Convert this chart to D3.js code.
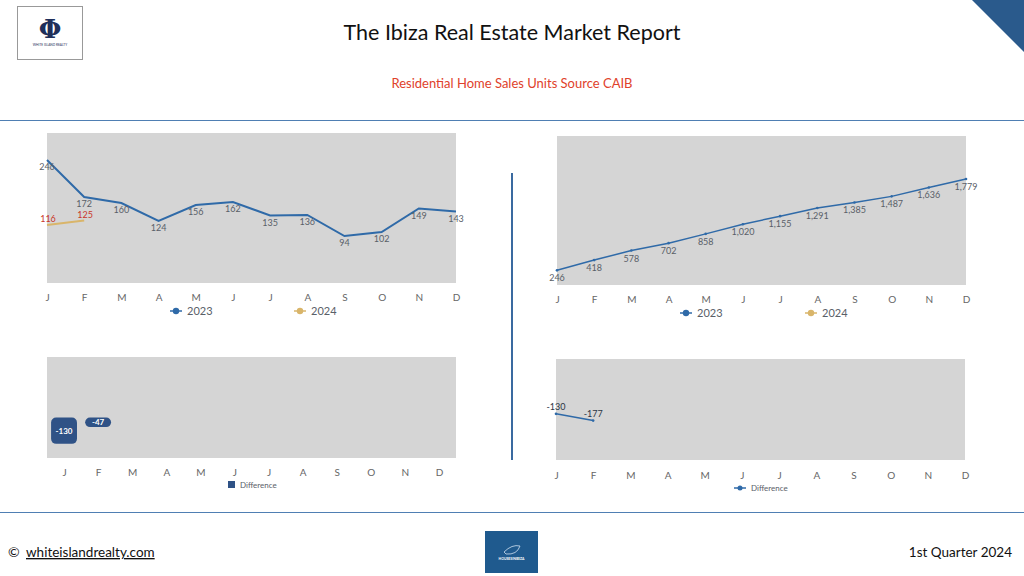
<!DOCTYPE html>
<html><head><meta charset="utf-8">
<script src="https://cdn.jsdelivr.net/npm/d3@7"></script>
<style>body{margin:0;background:#fff}svg{display:block;font-family:Lato,"Open Sans",sans-serif}</style>
</head><body><svg id="c" width="1024" height="576"></svg>
<script>
const months = ["J","F","M","A","M","J","J","A","S","O","N","D"];
const sales2023 = [246,172,160,124,156,162,135,136,94,102,149,143];
const sales2024 = [116,125];
const cum2023 = [246,418,578,702,858,1020,1155,1291,1385,1487,1636,1779];
const diffMonthly = [-130,-47];
const diffCum = [-130,-177];
const title = "The Ibiza Real Estate Market Report";
const subtitle = "Residential Home Sales Units Source CAIB";

const svg = d3.select("#c");
const BLUE = "#2f6aa8", GOLD = "#d9b56a", NAVY = "#2f5286", GRAYBG = "#d5d5d5", TXT = "#596068";
const idx = d3.range(12);

// header
svg.append("rect").attr("x",17.5).attr("y",6.5).attr("width",65).attr("height",53).attr("fill","#fff").attr("stroke","#999").attr("stroke-width",1);
svg.append("text").attr("x",50).attr("y",38).attr("text-anchor","middle").attr("font-family","DejaVu Serif,serif").attr("font-size",26).attr("font-weight","bold").attr("fill","#1f2f5a").text("Φ");
svg.append("text").attr("x",50).attr("y",46).attr("text-anchor","middle").attr("font-size",3.2).attr("fill","#1f2f5a").text("WHITE ISLAND REALTY");
svg.append("polygon").attr("points","972,0 1024,0 1024,52").attr("fill","#2a5a8c");
svg.append("text").attr("x",512).attr("y",40).attr("text-anchor","middle").attr("font-size",21.5).attr("fill","#111").text(title);
svg.append("text").attr("x",512).attr("y",88).attr("text-anchor","middle").attr("font-size",13).attr("fill","#e0412b").text(subtitle);
svg.append("line").attr("x1",0).attr("x2",1024).attr("y1",120.5).attr("y2",120.5).attr("stroke","#4f7fb3").attr("stroke-width",1.2);
svg.append("line").attr("x1",0).attr("x2",1024).attr("y1",512.5).attr("y2",512.5).attr("stroke","#4f7fb3").attr("stroke-width",1.2);
svg.append("line").attr("x1",512).attr("x2",512).attr("y1",173).attr("y2",460).attr("stroke","#3a6aa0").attr("stroke-width",2);

function xAxis(g, x, y, fmt){
  const a = g.append("g").attr("transform",`translate(0,${y})`)
    .call(d3.axisBottom(x).tickSize(0).tickFormat(fmt));
  a.select(".domain").remove();
  a.selectAll("text").attr("font-size",10).attr("fill","#666").attr("font-family","Lato,sans-serif").attr("dy","0.35em");
}
function legendLine(x, y, color, label, size){
  svg.append("line").attr("x1",x-6).attr("x2",x+6).attr("y1",y).attr("y2",y).attr("stroke",color).attr("stroke-width",1.5);
  svg.append("circle").attr("cx",x).attr("cy",y).attr("r",size||3.2).attr("fill",color);
  svg.append("text").attr("x",x+11).attr("y",y).attr("dy","0.35em").attr("font-size",label==="Difference"?8:11).attr("fill",TXT).text(label);
}

// ---- Chart 1: monthly sales
{
  const x = d3.scalePoint().domain(idx).range([47,456]);
  const y = d3.scaleLinear().domain([0,300]).range([283,133]);
  svg.append("rect").attr("x",47).attr("y",133).attr("width",409).attr("height",150).attr("fill",GRAYBG);
  const line = d3.line().x((d,i)=>x(i)).y(d=>y(d));
  svg.append("path").datum(sales2023).attr("d",line).attr("fill","none").attr("stroke",BLUE).attr("stroke-width",2);
  svg.append("path").datum(sales2024).attr("d",line).attr("fill","none").attr("stroke",GOLD).attr("stroke-width",2);
  svg.append("g").selectAll("text").data(sales2023).join("text")
    .attr("x",(d,i)=>x(i)).attr("y",d=>y(d)+10).attr("text-anchor","middle").attr("font-size",9).attr("fill",TXT).text(d=>d);
  svg.append("g").selectAll("text").data(sales2024).join("text")
    .attr("x",(d,i)=>x(i)+1).attr("y",d=>y(d)-3).attr("text-anchor","middle").attr("font-size",9).attr("fill","#c9352a").text(d=>d);
  xAxis(svg.append("g"), x, 294, i=>months[i]);
  legendLine(176, 311, BLUE, "2023");
  legendLine(300, 311, GOLD, "2024");
}

// ---- Chart 2: cumulative
{
  const x = d3.scalePoint().domain(idx).range([557,966]);
  const y = d3.scaleLinear().domain([0,2500]).range([285,136]);
  svg.append("rect").attr("x",557).attr("y",136).attr("width",409).attr("height",149).attr("fill",GRAYBG);
  const line = d3.line().x((d,i)=>x(i)).y(d=>y(d));
  svg.append("path").datum(cum2023).attr("d",line).attr("fill","none").attr("stroke",BLUE).attr("stroke-width",1.5);
  svg.append("g").selectAll("circle").data(cum2023).join("circle")
    .attr("cx",(d,i)=>x(i)).attr("cy",d=>y(d)).attr("r",1.3).attr("fill",BLUE);
  svg.append("g").selectAll("text").data(cum2023).join("text")
    .attr("x",(d,i)=>x(i)).attr("y",d=>y(d)+11).attr("text-anchor","middle").attr("font-size",9).attr("fill",TXT).text(d=>d3.format(",")(d));
  xAxis(svg.append("g"), x, 296, i=>months[i]);
  legendLine(686, 313, BLUE, "2023");
  legendLine(811, 313, GOLD, "2024");
}

// ---- Chart 3: monthly difference bars
{
  const x = d3.scaleBand().domain(idx).range([47,456]).paddingInner(0.24).paddingOuter(0.12);
  const y = d3.scaleLinear().domain([-200,300]).range([458,357]);
  svg.append("rect").attr("x",47).attr("y",357).attr("width",409).attr("height",101).attr("fill",GRAYBG);
  const bars = svg.append("g").selectAll("g").data(diffMonthly).join("g");
  bars.append("rect").attr("x",(d,i)=>x(i)).attr("width",x.bandwidth())
    .attr("y",d=>y(Math.max(0,d))).attr("height",d=>Math.abs(y(d)-y(0)))
    .attr("rx",d=>Math.min(5,Math.abs(y(d)-y(0))/2)).attr("fill",NAVY);
  bars.append("text").attr("x",(d,i)=>x(i)+x.bandwidth()/2).attr("y",d=>(y(d)+y(0))/2).attr("dy","0.35em")
    .attr("text-anchor","middle").attr("font-size",8).attr("font-weight","bold").attr("fill","#fff").text(d=>d);
  const xa = d3.scalePoint().domain(idx).range([x(0)+x.bandwidth()/2, x(11)+x.bandwidth()/2]);
  xAxis(svg.append("g"), xa, 469, i=>months[i]);
  svg.append("rect").attr("x",228).attr("y",481).attr("width",7).attr("height",7).attr("fill",NAVY);
  svg.append("text").attr("x",240).attr("y",485).attr("dy","0.35em").attr("font-size",8).attr("fill",TXT).text("Difference");
}

// ---- Chart 4: cumulative difference
{
  const x = d3.scalePoint().domain(idx).range([556,965]);
  const y = d3.scaleLinear().domain([-450,250]).range([460,359]);
  svg.append("rect").attr("x",556).attr("y",359).attr("width",409).attr("height",101).attr("fill",GRAYBG);
  const line = d3.line().x((d,i)=>x(i)).y(d=>y(d));
  svg.append("path").datum(diffCum).attr("d",line).attr("fill","none").attr("stroke",BLUE).attr("stroke-width",1.5);
  svg.append("g").selectAll("circle").data(diffCum).join("circle")
    .attr("cx",(d,i)=>x(i)).attr("cy",d=>y(d)).attr("r",1.3).attr("fill",BLUE);
  svg.append("g").selectAll("text").data(diffCum).join("text")
    .attr("x",(d,i)=>x(i)).attr("y",d=>y(d)-4).attr("text-anchor","middle").attr("font-size",9).attr("fill","#2b3645").text(d=>d);
  xAxis(svg.append("g"), x, 472, i=>months[i]);
  legendLine(740, 488, BLUE, "Difference", 2.5);
}

// footer
svg.append("text").attr("x",8).attr("y",557).attr("font-size",14).attr("fill","#111").text("©");
svg.append("text").attr("x",26).attr("y",557).attr("font-size",13.5).attr("fill","#111").attr("text-decoration","underline").text("whiteislandrealty.com");
svg.append("rect").attr("x",485).attr("y",531).attr("width",53).attr("height",42).attr("fill","#1f5a8e");
svg.append("path").attr("d","M504,552 q8,-8 16,-6 q-3,9 -14,8 z").attr("fill","none").attr("stroke","#cfe0f0").attr("stroke-width",0.8);
svg.append("text").attr("x",511.5).attr("y",560).attr("text-anchor","middle").attr("font-size",3.4).attr("font-weight","bold").attr("fill","#fff").text("HOUSESINIBIZA");
svg.append("text").attr("x",1012).attr("y",557).attr("text-anchor","end").attr("font-size",13.5).attr("fill","#111").text("1st Quarter 2024");
</script></body></html>
